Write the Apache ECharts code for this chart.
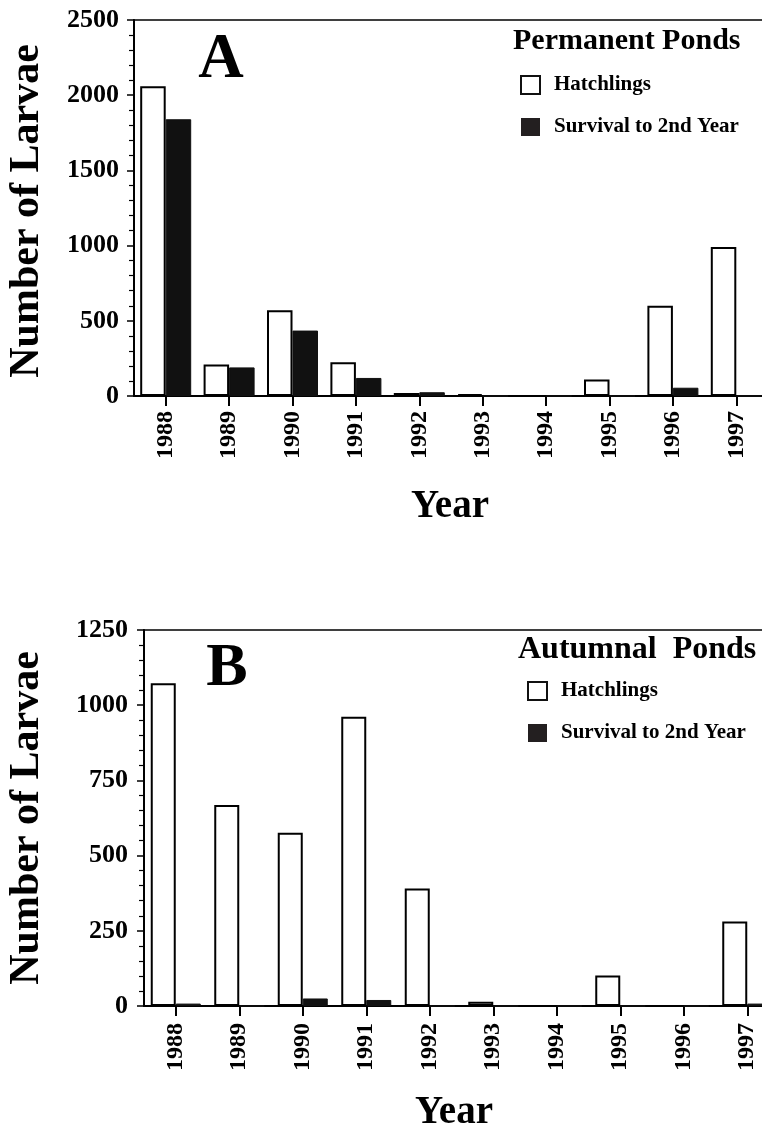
<!DOCTYPE html>
<html><head><meta charset="utf-8">
<script src="https://cdn.jsdelivr.net/npm/echarts@6/dist/echarts.min.js"></script>
<style>html,body{margin:0;padding:0;background:#fff;overflow:hidden}#c{width:800px;height:1136px}</style>
</head><body><div id="c"></div>
<script>
// ---- data ----
const years = ['1988','1989','1990','1991','1992','1993','1994','1995','1996','1997'];
const permHatch = [2060, 210, 570, 225, 20, 12, 0, 110, 600, 990];
const permSurv  = [1840, 190, 435, 120, 25, 0, 0, 0, 55, 0];
const autHatch  = [1073, 668, 576, 962, 391, 14, 0, 101, 0, 281];
const autSurv   = [8, 0, 25, 20, 0, 0, 0, 0, 0, 8];
const permAxis = {min: 0, max: 2500, interval: 500};
const autAxis  = {min: 0, max: 1250, interval: 250};
const seriesNames = ['Hatchlings', 'Survival to 2nd Year'];

// ---- chart ----
const FONT = '"Liberation Serif", "Times New Roman", serif';
const chart = echarts.init(document.getElementById('c'), null, {renderer: 'canvas'});

function xAxisCfg(gridIndex, margin) {
  return {
    type: 'category', gridIndex, data: years,
    axisLine: {show: true, lineStyle: {color: '#000', width: 2}},
    axisTick: {show: true, alignWithLabel: true, length: 10, lineStyle: {color: '#000', width: 2}},
    axisLabel: {rotate: 90, margin, color: '#000', fontFamily: FONT, fontWeight: 'bold', fontSize: 24},
    splitLine: {show: false}
  };
}
function yAxisCfg(gridIndex, ax, margin) {
  return {
    type: 'value', gridIndex, min: ax.min, max: ax.max, interval: ax.interval,
    axisLine: {show: true, lineStyle: {color: '#000', width: 2}},
    axisTick: {show: true, length: 7, lineStyle: {color: '#000', width: 1.5}},
    minorTick: {show: true, splitNumber: 5, length: 5, lineStyle: {color: '#000', width: 1.2}},
    axisLabel: {margin, color: '#000', fontFamily: FONT, fontWeight: 'bold', fontSize: 26,
      formatter: v => String(v)},
    splitLine: {show: false}
  };
}
const hatchStyle = {color: '#fff', borderColor: '#000', borderWidth: 2};
const survStyle = {color: '#111', borderColor: '#111', borderWidth: 1};

function bar(name, data, gi, style, w) {
  return {type: 'bar', name, data, xAxisIndex: gi, yAxisIndex: gi,
    barWidth: w, barGap: '0%', itemStyle: style, emphasis: {disabled: true}, animation: false};
}
function legendCfg(left, top) {
  return {
    orient: 'vertical', left, top, icon: 'rect', itemWidth: 19, itemHeight: 18, itemGap: 20,
    selectedMode: false,
    data: [
      {name: seriesNames[0], itemStyle: {color: '#fff', borderColor: '#111', borderWidth: 2}},
      {name: seriesNames[1], itemStyle: {color: '#231f20', borderColor: '#231f20', borderWidth: 0}}
    ],
    textStyle: {color: '#000', fontFamily: FONT, fontWeight: 'bold', fontSize: 21, padding: [0, 0, 0, 9], lineHeight: 22}
  };
}
function txt(x, y, text, size, opts) {
  return Object.assign({type: 'text', x, y, style: {text, fill: '#000', font: 'bold ' + size + 'px ' + FONT,
    textAlign: 'center', textVerticalAlign: 'middle'}}, opts || {});
}

chart.setOption({
  backgroundColor: '#fff',
  animation: false,
  grid: [
    {left: 134, top: 20, width: 634, height: 376, show: true, borderColor: '#000', borderWidth: 1.5, backgroundColor: 'transparent'},
    {left: 144, top: 630, width: 635, height: 376, show: true, borderColor: '#000', borderWidth: 1.5, backgroundColor: 'transparent'}
  ],
  xAxis: [xAxisCfg(0, 15), xAxisCfg(1, 17)],
  yAxis: [yAxisCfg(0, permAxis, 15), yAxisCfg(1, autAxis, 16)],
  legend: [legendCfg(515, 69), legendCfg(522, 675)],
  series: [
    bar(seriesNames[0], permHatch, 0, hatchStyle, 25.5),
    bar(seriesNames[1], permSurv, 0, survStyle, 25.5),
    bar(seriesNames[0], autHatch, 1, hatchStyle, 25),
    bar(seriesNames[1], autSurv, 1, survStyle, 25)
  ],
  graphic: [
    txt(27.5, 211, 'Number of Larvae', 42, {rotation: Math.PI / 2}),
    txt(27.5, 818, 'Number of Larvae', 42, {rotation: Math.PI / 2}),
    txt(450, 507, 'Year', 39),
    txt(454, 1113, 'Year', 39),
    txt(221, 61, 'A', 63),
    txt(227, 669, 'B', 62),
    {type: 'text', x: 513, y: 41, style: {text: 'Permanent Ponds', fill: '#000', font: 'bold 30px ' + FONT, textAlign: 'left', textVerticalAlign: 'middle'}},
    {type: 'text', x: 518, y: 650, style: {text: 'Autumnal  Ponds', fill: '#000', font: 'bold 32px ' + FONT, textAlign: 'left', textVerticalAlign: 'middle'}}
  ]
});
</script></body></html>
